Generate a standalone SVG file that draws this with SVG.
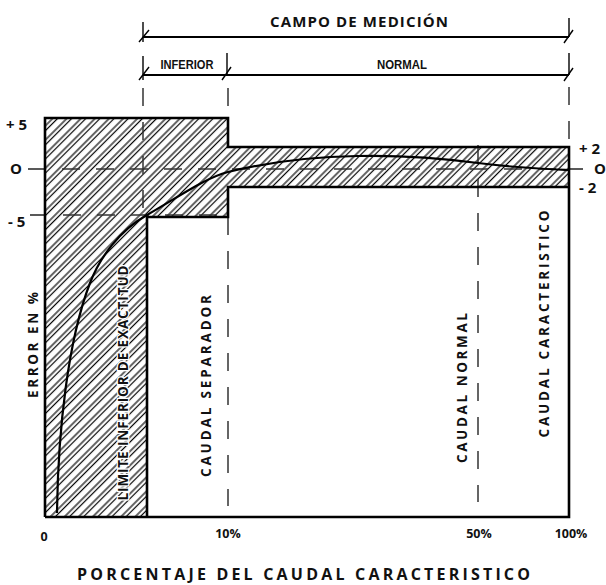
<svg xmlns="http://www.w3.org/2000/svg" width="606" height="585" viewBox="0 0 606 585">
<style>
.t{font-family:"Open Sans","DejaVu Sans",sans-serif;font-weight:bold;fill:#111}
.n{font-family:"Liberation Sans",Arial,sans-serif;font-weight:bold;fill:#111}
.frame{fill:none;stroke:#000;stroke-width:2.6;stroke-linejoin:miter}
.dash{fill:none;stroke:#333;stroke-width:1.5;stroke-dasharray:18 16}
.solid{fill:none;stroke:#222;stroke-width:1.5}
.dim{fill:none;stroke:#000;stroke-width:2}
.tick{fill:none;stroke:#000;stroke-width:1.4}
.halo{stroke:#fff;stroke-width:2.5;paint-order:stroke}
</style>
<defs>
<pattern id="hatch" patternUnits="userSpaceOnUse" width="10" height="10" patternTransform="rotate(45)">
<line x1="1" y1="0" x2="1" y2="10" stroke="#000" stroke-width="1.2"/>
<line x1="4.5" y1="0" x2="4.5" y2="10" stroke="#000" stroke-width="1.2"/>
</pattern>
</defs>
<rect width="606" height="585" fill="#fff"/>

<g id="hatched-zone">
<polygon points="45,118 228,118 228,147 569,147 569,187 228,187 228,217 147,217 147,517 45,517" fill="url(#hatch)"/>
</g>

<g id="reference-lines">
<line class="solid" x1="28" y1="169" x2="45" y2="169"/>
<line class="dash" x1="62" y1="169" x2="569" y2="169"/>
<line class="solid" x1="569" y1="169" x2="583" y2="169"/>
<line class="solid" x1="30" y1="215" x2="45" y2="215"/>
<line class="dash" x1="63" y1="215" x2="228" y2="215"/>
<line class="dash" x1="143" y1="88" x2="143" y2="210"/>
<line class="dash" x1="228" y1="88" x2="228" y2="110"/>
<line class="dash" x1="228" y1="217" x2="228" y2="506"/>
<line class="dash" x1="478" y1="145" x2="478" y2="502"/>
<line class="dash" x1="569" y1="87" x2="569" y2="140"/>
</g>

<g id="frame">
<polyline class="frame" points="45,517 45,118 228,118 228,147 569,147 569,517 45,517"/>
<polyline class="frame" points="569,187 228,187 228,217 147,217 147,517"/>
</g>

<g id="error-curve">
<path d="M57,513 C58,430 68,340 90,283 C100,257 120,230 147,215 C180,196 205,178 228,172 C260,164 300,157 357,156 C400,155 440,158 478,163 C516,168 545,169 569,170" fill="none" stroke="#000" stroke-width="2.2"/>
</g>

<g id="range-dimensions">
<line class="dim" x1="143" y1="37" x2="569" y2="37"/>
<line class="tick" x1="143" y1="22" x2="143" y2="42"/>
<line class="tick" x1="139" y1="42" x2="149" y2="30"/>
<line class="tick" x1="569" y1="18" x2="569" y2="37"/>
<line class="tick" x1="564" y1="43" x2="573" y2="30"/>
<line class="dim" x1="143" y1="75" x2="569" y2="75"/>
<line class="tick" x1="143" y1="56" x2="143" y2="80"/>
<line class="tick" x1="139" y1="80" x2="149" y2="67"/>
<line class="tick" x1="227" y1="53" x2="227" y2="75"/>
<line class="tick" x1="222" y1="80" x2="231" y2="67"/>
<line class="tick" x1="569" y1="53" x2="569" y2="75"/>
<line class="tick" x1="564" y1="81" x2="573" y2="68"/>
<text class="t" x="359" y="27" font-size="15" text-anchor="middle" textLength="178" lengthAdjust="spacing">CAMPO DE MEDICIÓN</text>
<text class="n" x="187" y="69" font-size="13" text-anchor="middle" textLength="53" lengthAdjust="spacingAndGlyphs">INFERIOR</text>
<text class="n" x="402" y="69" font-size="13" text-anchor="middle" textLength="50" lengthAdjust="spacingAndGlyphs">NORMAL</text>
</g>

<g id="axis-labels">
<text class="t" x="6" y="130" font-size="15">+ 5</text>
<text class="t" x="10" y="174" font-size="15">O</text>
<text class="t" x="8" y="227" font-size="15">- 5</text>
<text class="t" x="579" y="154" font-size="15">+ 2</text>
<text class="t" x="594" y="174" font-size="15">O</text>
<text class="t" x="579" y="193" font-size="15">- 2</text>
<text class="t" x="44" y="541" font-size="12.5" text-anchor="middle">0</text>
<text class="t" x="228" y="538" font-size="12.5" text-anchor="middle">10%</text>
<text class="t" x="479" y="538" font-size="12.5" text-anchor="middle">50%</text>
<text class="t" x="571" y="538" font-size="12.5" text-anchor="middle">100%</text>
<text class="t" x="303.5" y="580" font-size="16" text-anchor="middle" textLength="453" lengthAdjust="spacing">PORCENTAJE DEL CAUDAL CARACTERISTICO</text>
</g>

<g id="vertical-labels">
<text class="t" font-size="13.5" text-anchor="middle" transform="translate(38,345) rotate(-90)" textLength="106" lengthAdjust="spacing">ERROR EN %</text>
<text class="t halo" font-size="13.5" text-anchor="middle" transform="translate(128,383) rotate(-90)" textLength="235" lengthAdjust="spacing">LIMITE INFERIOR DE EXACTITUD</text>
<text class="t" font-size="13.5" text-anchor="middle" transform="translate(211,386) rotate(-90)" textLength="182" lengthAdjust="spacing">CAUDAL SEPARADOR</text>
<text class="t" font-size="13.5" text-anchor="middle" transform="translate(467,388) rotate(-90)" textLength="150" lengthAdjust="spacing">CAUDAL NORMAL</text>
<text class="t" font-size="13.5" text-anchor="middle" transform="translate(549,324) rotate(-90)" textLength="227" lengthAdjust="spacing">CAUDAL CARACTERISTICO</text>
</g>
</svg>
